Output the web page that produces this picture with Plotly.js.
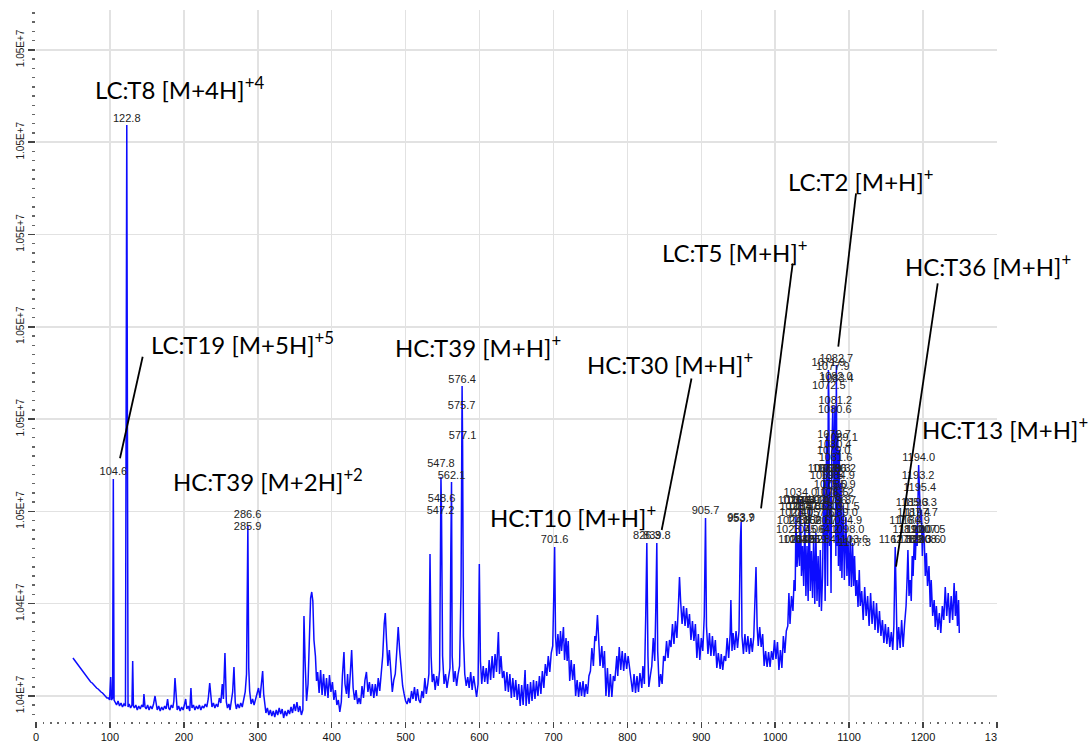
<!DOCTYPE html>
<html>
<head>
<meta charset="utf-8">
<script src="https://cdn.plot.ly/plotly-3.0.1.min.js"></script>
<style>
  html, body { margin: 0; padding: 0; background: #ffffff; }
  #chart { width: 1089px; height: 746px; }
</style>
</head>
<body>
<div id="chart"></div>
<script>
// ---------- spectrum (m/z, intensity) ----------
const mz = [
50,52,54,56,58,60,62,64,66,68,70,72,74,76,78,80,82,84,86,88,90,92,94,96,98,99.5,101,102,103.6,104.6,105.6,
107,109,111,113,115,117,119,121,122.8,124.5,126,128,129.8,130.8,131.8,133,135,137,139,141,143,145,146,147.5,149,151,153,155,157,159,161,162.5,164,166,168,170,172,174,176,178,179.5,181,183,185,186.5,188,189.5,191,193,195,197,199,201,202.5,204,206,208,209.6,211,213,215,217,219,221,223,225,227,229,231,233,235,236.5,238,240,242,244,246,248,250,252,253.5,255.6,257.5,259,261,262.5,264,266,267.8,269.5,271,273,275,277,279,281,283,284.8,285.9,286.6,287.8,289,291,293,295,297,299,301,303,305,306.6,308,309.5,311,313,315,317,319,321,323,325,327,329,331,333,335,337,339,341,343,345,347,349,351,353,355,357,359,361,
362.5,364,366,368,370,371.5,373,374.5,376,378,379.5,381,383,385,387,389,391,393,395,397,399,401,403,405,407,409,411,413,414.5,416.6,418,420,421.5,423,425,427,429,431,433,435,437,439,441,443,445,447,449,451,453,455,457,459,461,463,465,467,469,471,472.5,474,476,478,480,482,484,486,488,490,492,494,496,498,500,502,504,506,508,510,512,514,516,518,520,522,524,526,528,530,531.5,533,534.5,536,538,540,542,544,546,547.2,547.8,548.6,550,552,554,556,558,560,561.2,562.1,563,565,567,569,571,573,575,575.7,576.4,577.1,578.2,580,582,584,586,588,590,592,594,596,598,599.7,
601.2,603,605,607,609,611,613,615,617,619,621,623,625.5,627,629,631,633,635,637,639,641,643,645,647,649,651,653,655,657,659,661.6,663,665,667,669,671,673,675,677,679,681,683,685,687,689,691,693,695,697,699,700.4,701.6,702.8,704.5,706,708,709.5,711,713.5,715,717,718.5,720,722,724,726,728,730,732,734,736,738,740,742,744,746,748,750,752,754,756,757.5,759.5,761,763,765.4,767,769,771,773,775,777,779,781,783,785.7,787,789,791,793,795,797,799,801,803.7,805,807,809,811,813,815,817,819.5,821,823,824.8,826.3,827.8,829,831,833,835,837,838.5,839.8,841,843,845,847,849,851,853,855,857,859,861,863,865,867,869,870.5,872,874,876,878,880,882,884,886,888,890,892,894,896,898,900,902,904,905.7,907,909,911,913,915,917,919,921,923,925.5,927,929,931,933,935,937,939,940,941.5,943,945,947,949,951,952.6,953.9,955,957,959,961,963,965,967,969,971,972.5,974,975.5,977,979,981,983,985,987,989,991,993,995,997,999,1001,1003,1005,1007,1009,1011,1013,1015,1017,1018.5,1020,1022,1024,
1025.5,1027,1028,1029.5,1031,1032.8,1034,1035.5,1037,1038.5,1040,1041.5,1043,1044.5,1046,1047.5,1049,1050.5,1052,1053.5,1055,1056.5,1058,1059.5,1061,1062.5,1064,1066,1067.5,1069.5,1070.8,1071.9,1072.5,1073.5,1074.5,1075.5,1076.5,1077.9,1079,1079.7,1080.6,1081.2,1082,1082.7,1083.6,1084.5,1085.5,1086.6,1087.8,1089,1090.2,1092,1093.5,1095.6,1097,1098.5,1100,1101.5,1103,1104.6,1106,1107.3,1109,1110.5,1112,1113.7,1115,1117,1119,1121,1123,1125,1127,1129,1131,1133,1135,1137,1139,1141,1143,1145,1147,1149,1151,1153,1155,1157,1159,1160.5,1162.3,1163.8,1165,1167,1169,1171,1173,1175,1177,1178.5,1179.5,1181,1182.6,1184,1185.3,1186.5,1188,1189.5,1191,1192,1193.2,1194,1195.4,1196.3,1197.7,1199,1200,1201.6,1203,1204.5,1206,1208,1209.7,1211,1213,1215,1216.5,1218,1220,1222,1224,1226,1228,1230,1232,1234,1236,1238,1240,1242,1243.7,1245,1246.5,1248,1249
];
const intensity = [
10442760,10442720,10442660,10442640,10442580,10442560,10442500,10442480,10442420,10442400,10442340,10442320,10442280,10442260,10442220,10442200,10442160,10442140,10442100,10442080,10442060,10442020,10442000,10441960,10441960,10441920,10442380,10441920,10441960,10446340,10441920,
10441880,10441820,10441900,10441800,10441860,10441780,10441840,10441800,10453420,10441780,10441840,10441760,10441820,10442700,10441800,10441760,10441820,10441720,10441800,10441740,10441820,10441780,10442040,10441780,10441740,10441820,10441720,10441800,10441740,10441840,10442000,10441800,10441720,10441800,10441700,10441780,10441720,10441800,10441740,10441940,10441760,10441720,10441820,10441760,10441900,10442360,10441880,10441720,10441800,10441700,10441780,10441720,10441840,10441940,10441740,10441800,10441700,10442160,10441760,10441820,10441720,10441800,10441740,10441820,10441720,10441800,10441760,10441840,10441780,10441940,10442260,10441900,10441780,10441860,10441760,10441840,10441780,10441960,10441860,10442240,10441940,10442860,10441880,10441760,10441840,10441720,10441900,10442080,10442580,10441880,10441740,10441840,10441760,10441860,10441780,10441920,10442080,10442440,10445200,10445400,10442560,10442100,10441840,10441940,10441820,10441920,10442060,10442160,10441960,10442200,10442500,10442040,10441820,10441660,10441760,10441620,10441720,10441600,10441700,10441580,10441720,10441620,10441760,10441640,10441740,10441560,10441700,10441600,10441720,10441640,10441780,10441660,10441840,10441700,10441880,10441680,10441800,10441620,10441720,
10443600,10442700,10441900,10442240,10443400,10443960,10444080,10443900,10443120,10442800,10442300,10442480,10442060,10442520,10442020,10442440,10442000,10442360,10441960,10442420,10442080,10442280,10441920,10442120,10441820,10441920,10441680,10441880,10442400,10442880,10442240,10442040,10442440,10441960,10442400,10442920,10442160,10441920,10442120,10441840,10441960,10441840,10442200,10441960,10442320,10442480,10442080,10442280,10442000,10442240,10441960,10442240,10442000,10442360,10442100,10442440,10442800,10443440,10443660,10443160,10442600,10442920,10442360,10442080,10442320,10442440,10442880,10443380,10442900,10442560,10442200,10442040,10441900,10441840,10441960,10441860,10442100,10441940,10442180,10441900,10442140,10441920,10441860,10442100,10441960,10442360,10442040,10442240,10442440,10444840,10442800,10442280,10442440,10442120,10442400,10442200,10442520,10445000,10446380,10445600,10442800,10442240,10442440,10442160,10442380,10442560,10445000,10446280,10442800,10442280,10442500,10442200,10442440,10442600,10444200,10447600,10448200,10447000,10443200,10442440,10442200,10442380,10442160,10442480,10442120,10442400,10442180,10441980,10442240,10444640,
10442700,10442240,10442600,10442280,10442560,10442240,10442720,10442320,10442800,10442360,10442840,10442480,10443280,10442440,10442800,10442360,10442500,10442100,10442480,10442080,10442440,10441960,10442360,10441980,10442320,10441920,10442240,10441800,10442220,10441820,10442520,10441800,10442240,10441840,10442280,10441900,10442320,10441940,10442300,10442000,10442400,10442040,10442500,10442160,10442640,10442400,10442800,10442480,10442860,10443000,10444000,10444980,10443200,10442800,10443240,10442840,10443300,10442900,10443380,10442720,10443160,10442700,10443100,10442300,10442720,10442320,10442640,10442000,10442320,10441980,10442280,10442000,10442300,10441980,10442240,10442040,10442400,10442500,10442960,10442600,10443200,10443100,10443620,10443040,10442600,10443000,10442560,10442900,10442000,10442560,10441980,10442440,10441980,10442400,10442300,10442800,10442400,10442980,10442520,10442900,10442500,10442860,10442540,10442800,10442440,10442400,10442080,10442440,10442060,10442400,10442080,10442460,10442160,10442600,10442240,10443600,10445060,10442800,10442180,10442400,10442600,10443160,10442700,10443800,10445060,10442900,10442180,10442440,10442240,10442800,10442700,10443100,10442760,10443120,10442980,10443440,10443040,10443500,10443160,10443800,10444380,10443900,10443440,10443800,10443400,10443760,10443360,10443640,10443120,10443500,10443100,10443440,10442760,10443240,10442720,10443160,10442900,10443600,10445560,10443400,10442840,10443260,10442800,10443200,10442800,10443120,10442560,10442860,10442540,10442840,10442520,10442800,10442700,10443160,10442760,10443240,10443920,10442900,10443260,10442920,10443300,10442960,10443300,10445000,10445480,10443200,10442840,10443240,10442880,10443200,10442840,10443160,10442880,10443200,10443800,10444580,10443400,10443000,10443380,10442980,10443240,10442600,10442900,10442580,10442880,10442580,10442900,10442720,10443120,10442740,10443080,10442520,10442920,10442560,10443200,10442860,10443300,10443400,10444060,10443440,10444000,10443700,
10444320,10444100,10445580,10444580,10445120,10444600,10445920,10444400,10445000,10444200,10445500,10444000,10445000,10443900,10445780,10444100,10444900,10443960,10445200,10443840,10445260,10443900,10444800,10443780,10444920,10443700,10444400,10446580,10443900,10447200,10444200,10448520,10448000,10445000,10446000,10444060,10446800,10447800,10447000,10446000,10447660,10447800,10444800,10448620,10445000,10447200,10444600,10446920,10444500,10446260,10444360,10445800,10444320,10445580,10444400,10445100,10444200,10445200,10444180,10445060,10444200,10444800,10444000,10444320,10443780,10444520,10443800,10444100,10443520,10444180,10443600,10444000,10443400,10444060,10443440,10443900,10443320,10443860,10443260,10443700,10443200,10443520,10443060,10443440,10443040,10443380,10442980,10443280,10442920,10443400,10444980,10443200,10442920,10443380,10442960,10443520,10442980,10443440,10443800,10444400,10444920,10444000,10444320,10443900,10444800,10444400,10445120,10444720,10445400,10445000,10446200,10446620,10446000,10445520,10445720,10444800,10445400,10445120,10444400,10444860,10444200,10444600,10443780,10444320,10443600,10443920,10443380,10443800,10443320,10443660,10443260,10443800,10443520,10444180,10443600,10444060,10443460,10444000,10443520,10444260,10443600,10444100,10443400,10443920,10443260
];

// ---------- peak labels ----------
const peakLabel = [
"122.8","104.6","286.6","285.9",
"576.4","575.7","577.1","547.8","562.1","548.6","547.2",
"701.6","826.3","839.8","905.7","953.7","953.9",
"1082.7","1071.9","1077.9","1082.0","1083.4","1072.5","1081.2","1080.6","1079.7","1089.1","1080.4","1079.0","1081.6",
"1066.8","1073.0","1079.3","1086.2","1069.5","1084.9","1075.0","1085.9","1034.0","1076.5","1083.2",
"1026.3","1031.3","1036.9","1044.2","1050.4","1079.8","1086.7",
"1028.5","1038.8","1047.1","1068.0","1091.5",
"1028.1","1040.7","1057.6","1089.0",
"1024.9","1038.2","1052.6","1060.7","1094.9",
"1023.7","1045.6","1064.2","1098.0",
"1026.7","1033.5","1042.2","1051.8","1059.4","1103.6","1107.3",
"1194.0","1193.2","1195.4","1185.3","1196.3","1187.4","1197.7","1176.4","1186.9",
"1181.0","1190.0","1200.0","1207.5",
"1162.3","1178.8","1189.3","1200.6","1208.0"
];
const peakMz = [
122.8,104.6,286.3,286.3,
576.4,575.7,577.1,547.8,562.1,548.6,547.2,
701.6,826.3,839.8,905.7,953.3,953.9,
1082.7,1071.9,1077.9,1082.0,1083.4,1072.5,1081.2,1080.6,1079.7,1089.1,1080.4,1079.0,1081.6,
1066.8,1073.0,1079.3,1086.2,1069.5,1084.9,1075.0,1085.9,1034.0,1076.5,1083.2,
1026.3,1031.3,1036.9,1044.2,1050.4,1079.8,1086.7,
1028.5,1038.8,1047.1,1068.0,1091.5,
1028.1,1040.7,1057.6,1089.0,
1024.9,1038.2,1052.6,1060.7,1094.9,
1023.7,1045.6,1064.2,1098.0,
1026.7,1033.5,1042.2,1051.8,1059.4,1103.6,1107.3,
1194.0,1193.2,1195.4,1185.3,1196.3,1187.4,1197.7,1176.4,1186.9,
1181.0,1190.0,1200.0,1207.5,
1162.3,1178.8,1189.3,1200.6,1208.0
];
const peakIntensity = [
10453420,10446346,10445500,10445260,
10448200,10447680,10447066,10446514,10446280,10445820,10445566,
10444986,10445066,10445066,10445566,10445420,10445440,
10448614,10448540,10448460,10448260,10448220,10448066,10447766,10447600,10447100,10447040,10446900,10446766,10446634,
10446414,10446414,10446414,10446414,10446266,10446266,10446100,10446100,10445934,10445934,10445934,
10445780,10445780,10445780,10445780,10445780,10445780,10445780,
10445660,10445660,10445660,10445660,10445660,
10445540,10445540,10445540,10445540,
10445366,10445366,10445366,10445366,10445366,
10445200,10445200,10445200,10445200,
10445000,10445000,10445000,10445000,10445000,10445000,10444934,
10446634,10446266,10446034,10445734,10445734,10445534,10445534,10445366,10445366,
10445200,10445200,10445200,10445200,
10444986,10444986,10444986,10444986,10444986
];

// ---------- fragment annotations ----------
const fragText = [
"LC:T8 [M+4H]<sup>+4</sup>",
"LC:T19 [M+5H]<sup>+5</sup>",
"HC:T39 [M+2H]<sup>+2</sup>",
"HC:T39 [M+H]<sup>+</sup>",
"HC:T30 [M+H]<sup>+</sup>",
"HC:T10 [M+H]<sup>+</sup>",
"LC:T5 [M+H]<sup>+</sup>",
"LC:T2 [M+H]<sup>+</sup>",
"HC:T36 [M+H]<sup>+</sup>",
"HC:T13 [M+H]<sup>+</sup>"
];
const fragMz = [78.5,154.3,184.0,484.3,744.1,612.9,845.5,1016.0,1174.3,1196.8];
const fragIntensity = [10454160,10449060,10446330,10449000,10448660,10445600,10450900,10452330,10450630,10447366];

// leader lines: from (leaderMz0, leaderI0) to (leaderMz1, leaderI1)
const leaderMz0 = [144.3, 886.7, 1023.6, 1109.3, 1219.8];
const leaderI0  = [10448786, 10448350, 10450654, 10452054, 10450254];
const leaderMz1 = [113.6, 846.4, 980.8, 1085.3, 1163.4];
const leaderI1  = [10446754, 10445320, 10445754, 10448986, 10444586];

// ---------- axis ticks ----------
const xTickVals = [100,200,300,400,500,600,700,800,900,1000,1100,1200];
const xTickText = ["100","200","300","400","500","600","700","800","900","1000","1100","1200"];
const xEdgeVals = [0,1300];
const xEdgeText = ["0","13\u2007\u2007"];
const yTickVals = [10442000,10443846,10445692,10447538,10449384,10451230,10453076,10454922];
const yTickText = ["1.04E+7","1.04E+7","1.05E+7","1.05E+7","1.05E+7","1.05E+7","1.05E+7","1.05E+7"];

const LABEL_OFFSET = 120; // label centre sits ~6px above its peak

const traces = [
  {
    type: 'scatter', mode: 'lines', x: mz, y: intensity,
    line: {color: 'rgb(12,12,255)', width: 1.5},
    hoverinfo: 'skip', showlegend: false
  },
  {
    type: 'scatter', mode: 'text', x: peakMz,
    y: peakIntensity.map(v => v + LABEL_OFFSET),
    text: peakLabel, textposition: 'middle center',
    textfont: {family: 'Liberation Sans, Arial, sans-serif', size: 11, color: '#222'},
    cliponaxis: false, hoverinfo: 'skip', showlegend: false
  },
  {
    type: 'scatter', mode: 'markers', x: [], y: [], xaxis: 'x2',
    hoverinfo: 'skip', showlegend: false
  }
];

const tickFont = {family: 'Liberation Sans, Arial, sans-serif', size: 11, color: '#111'};

const annotations = fragText.map((t, i) => ({
  text: t, x: fragMz[i], y: fragIntensity[i], xref: 'x', yref: 'y',
  xanchor: 'left', yanchor: 'middle', showarrow: false, borderpad: 0,
  font: {family: 'Lato, Carlito, sans-serif', size: 24, color: '#000'}
}));

const shapes = leaderMz0.map((m, i) => ({
  type: 'line', xref: 'x', yref: 'y',
  x0: m, y0: leaderI0[i], x1: leaderMz1[i], y1: leaderI1[i],
  line: {color: '#000', width: 1.8}
}));

const layout = {
  width: 1089, height: 746,
  margin: {l: 36, r: 92, t: 10, b: 25},
  paper_bgcolor: '#fff', plot_bgcolor: '#fff',
  showlegend: false,
  xaxis: {
    range: [0, 1300], tickmode: 'array', tickvals: xTickVals, ticktext: xTickText,
    showgrid: true, gridcolor: '#e2e2e2', gridwidth: 1.5,
    zeroline: false, showline: false,
    ticks: 'outside', ticklen: 6, tickwidth: 1.5, tickcolor: '#444',
    tickfont: tickFont,
    minor: {tick0: 0, dtick: 10, ticks: 'outside', ticklen: 2, tickwidth: 1.5, tickcolor: '#666', showgrid: false}
  },
  xaxis2: {
    overlaying: 'x', anchor: 'y', side: 'bottom', range: [0, 1300],
    tickmode: 'array', tickvals: xEdgeVals, ticktext: xEdgeText,
    showgrid: false, zeroline: false, showline: false,
    ticks: 'outside', ticklen: 6, tickwidth: 1.5, tickcolor: '#444',
    tickfont: tickFont
  },
  yaxis: {
    range: [10441500, 10455720], tickmode: 'array', tickvals: yTickVals, ticktext: yTickText,
    tickangle: -90, showgrid: true, gridcolor: '#e2e2e2', gridwidth: 1.5,
    zeroline: false, showline: false,
    ticks: 'outside', ticklen: 7, tickwidth: 1.5, tickcolor: '#444',
    tickfont: {family: 'Liberation Sans, Arial, sans-serif', size: 10, color: '#222'},
    minor: {tick0: 10442000, dtick: 184.6, ticks: 'outside', ticklen: 3, tickwidth: 1.5, tickcolor: '#666', showgrid: false}
  },
  annotations: annotations,
  shapes: shapes
};

Plotly.newPlot('chart', traces, layout, {displayModeBar: false, staticPlot: true});
</script>
</body>
</html>
